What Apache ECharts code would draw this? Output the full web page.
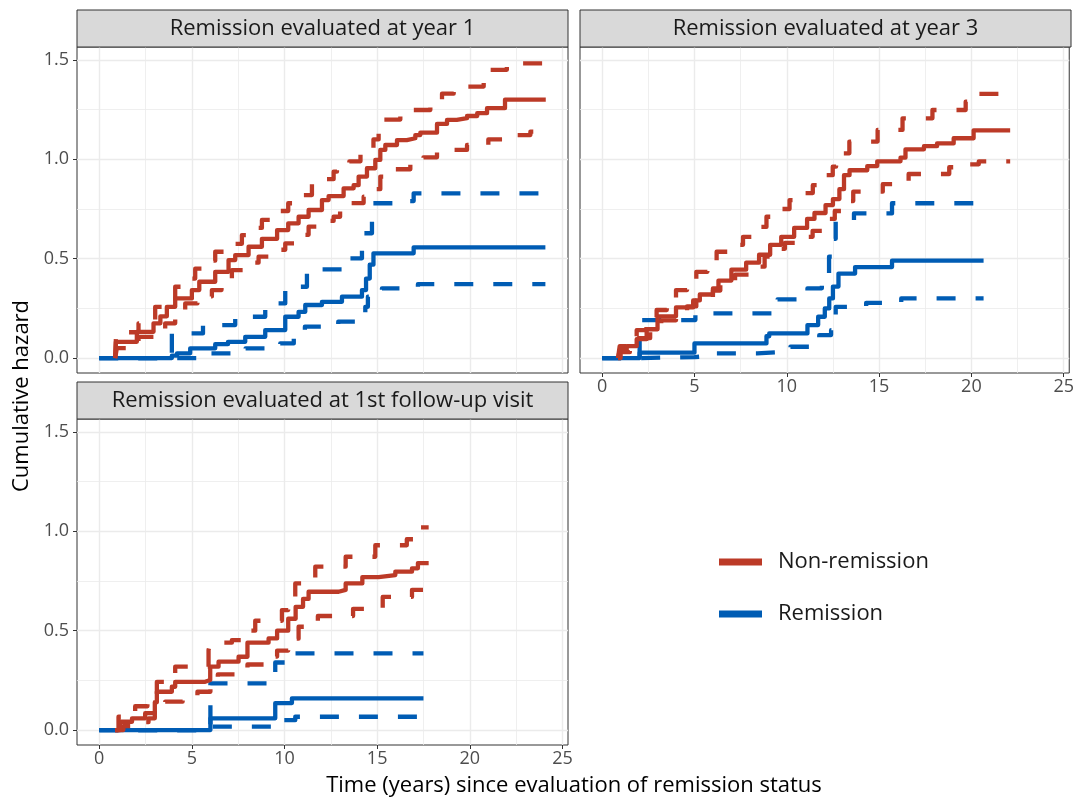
<!DOCTYPE html>
<html>
<head>
<meta charset="utf-8">
<script src="https://cdn.jsdelivr.net/npm/echarts@6/dist/echarts.min.js"></script>
<style>
html,body{margin:0;padding:0;background:#fff;}
#chart{width:1077px;height:799px;}
</style>
</head>
<body>
<div id="chart"></div>
<script>
// ---------- DATA (time in years, cumulative hazard) ----------
const panelTitles = ["Remission evaluated at year 1", "Remission evaluated at year 3", "Remission evaluated at 1st follow-up visit"];
const groupNames = ["Non-remission", "Remission"];
const xTicks = [0, 5, 10, 15, 20, 25];
const xMinorTicks = [2.5, 7.5, 12.5, 17.5, 22.5];
const yTicks = [0, 0.5, 1.0, 1.5];
const yMinorTicks = [0.25, 0.75, 1.25];

// Panel 1: year 1
const y1NonRemEst = [[0.86,0],[0.9,0.082],[2.03,0.132],[2.93,0.175],[3.3,0.21],[3.65,0.258],[4.1,0.30],[5.0,0.342],[5.4,0.384],[6.26,0.434],[6.98,0.493],[7.34,0.518],[8.06,0.56],[8.78,0.60],[9.6,0.644],[10.2,0.678],[10.76,0.711],[11.3,0.745],[12.02,0.795],[12.38,0.815],[13.19,0.854],[13.73,0.87],[14.0,0.913],[14.45,0.955],[14.9,0.997],[15.17,1.047],[15.44,1.072],[16.07,1.097],[16.6,1.106],[17.06,1.122],[17.33,1.134],[18.23,1.178],[18.77,1.198],[19.3,1.207],[19.85,1.218],[20.4,1.232],[20.93,1.257],[21.9,1.30],[24.1,1.30]];
const y1NonRemUpper = [[0.86,0],[0.9,0.10],[1.5,0.13],[2.12,0.175],[3.02,0.258],[3.5,0.30],[4.1,0.359],[4.6,0.40],[5.18,0.45],[5.7,0.49],[6.26,0.535],[7.0,0.575],[7.7,0.619],[8.2,0.655],[8.78,0.695],[9.5,0.74],[10.2,0.779],[10.8,0.82],[11.48,0.879],[12.0,0.90],[12.65,0.938],[12.83,0.955],[13.5,0.99],[14.1,1.03],[14.8,1.10],[15.08,1.164],[15.2,1.20],[16.25,1.248],[17.87,1.29],[18.5,1.33],[19.13,1.366],[20.75,1.408],[20.9,1.45],[22.0,1.483],[24.1,1.483]];
const y1NonRemLower = [[0.86,0],[0.95,0.05],[2.12,0.107],[3.0,0.14],[3.56,0.175],[4.1,0.23],[4.64,0.275],[5.3,0.31],[6.08,0.342],[6.6,0.40],[7.16,0.443],[7.9,0.48],[8.6,0.51],[9.3,0.545],[10.04,0.577],[10.7,0.62],[11.3,0.661],[12.0,0.69],[12.65,0.711],[13.0,0.745],[13.6,0.78],[14.27,0.812],[14.6,0.85],[15.17,0.913],[16.0,0.95],[16.79,0.98],[17.5,1.01],[18.23,1.047],[19.85,1.072],[21.0,1.10],[21.83,1.122],[23.27,1.139],[24.1,1.139]];
const y1RemEst = [[0,0],[3.92,0.012],[4.2,0.024],[4.91,0.049],[6.26,0.07],[6.95,0.082],[7.88,0.107],[8.96,0.141],[10.04,0.208],[10.76,0.233],[11.12,0.267],[12.02,0.283],[13.1,0.309],[14.18,0.342],[14.4,0.40],[14.6,0.47],[14.8,0.527],[16.97,0.557],[24.08,0.557]];
const y1RemUpper = [[0,0],[3.92,0.124],[5.6,0.166],[7.34,0.208],[8.96,0.275],[10.04,0.359],[11.21,0.446],[13.1,0.502],[14.18,0.628],[14.72,0.779],[16.16,0.79],[16.97,0.829],[24.08,0.829]];
const y1RemLower = [[0,0],[5.9,0.024],[7.9,0.049],[9.77,0.074],[10.5,0.12],[11.1,0.158],[12.9,0.183],[14.36,0.258],[14.5,0.309],[15.26,0.351],[17.2,0.372],[24.08,0.372]];

// Panel 2: year 3
const y3NonRemEst = [[0.86,0],[0.95,0.04],[1.33,0.06],[1.87,0.095],[2.41,0.145],[3.0,0.21],[4.0,0.255],[4.93,0.29],[5.29,0.32],[6.0,0.35],[6.3,0.39],[7.0,0.445],[7.8,0.48],[8.5,0.52],[9.1,0.57],[9.7,0.61],[10.4,0.655],[11.1,0.70],[11.5,0.73],[12.1,0.77],[12.5,0.80],[12.85,0.85],[13.1,0.92],[13.4,0.945],[14.36,0.966],[14.9,0.99],[16.16,1.008],[16.43,1.05],[17.43,1.066],[18.14,1.08],[19.04,1.106],[20.12,1.146],[22.1,1.146]];
const y3NonRemUpper = [[0.86,0],[0.95,0.06],[1.3,0.09],[1.87,0.141],[2.4,0.19],[2.95,0.242],[3.5,0.29],[4.0,0.342],[4.6,0.38],[5.1,0.434],[5.7,0.48],[6.2,0.535],[6.9,0.57],[7.63,0.61],[8.2,0.66],[8.9,0.711],[9.5,0.75],[10.15,0.795],[10.8,0.83],[11.41,0.87],[12.0,0.92],[12.49,0.963],[12.67,0.98],[13.0,1.03],[13.39,1.089],[14.92,1.148],[16.27,1.206],[17.89,1.248],[19.69,1.29],[20.05,1.329],[22.1,1.329]];
const y3NonRemLower = [[0.86,0],[1.0,0.03],[1.5,0.06],[1.87,0.10],[2.6,0.14],[3.2,0.19],[4.0,0.22],[4.6,0.26],[5.1,0.29],[6.0,0.34],[6.4,0.38],[7.2,0.42],[8.0,0.46],[8.8,0.51],[9.3,0.55],[9.9,0.58],[10.6,0.61],[11.4,0.64],[12.1,0.70],[12.6,0.74],[13.1,0.79],[13.6,0.837],[15.2,0.875],[16.6,0.926],[18.8,0.96],[19.4,0.975],[20.4,0.99],[22.1,0.99]];
const y3RemEst = [[0,0],[2.03,0.027],[5.0,0.074],[8.9,0.11],[9.05,0.124],[11.12,0.166],[11.7,0.208],[12.06,0.25],[12.3,0.30],[12.5,0.36],[12.8,0.425],[13.7,0.458],[15.7,0.49],[20.66,0.49]];
const y3RemUpper = [[0,0],[2.03,0.191],[5.05,0.225],[9.5,0.295],[11.12,0.351],[11.9,0.40],[12.29,0.51],[12.5,0.60],[12.65,0.695],[13.64,0.728],[15.7,0.779],[20.66,0.779]];
const y3RemLower = [[0,0],[2.03,0.005],[5.0,0.013],[6.1,0.024],[8.4,0.032],[10.2,0.057],[11.76,0.116],[12.4,0.14],[12.65,0.258],[14.3,0.278],[16.2,0.30],[20.66,0.30]];

// Panel 3: 1st follow-up visit
const fvNonRemEst = [[0.86,0],[1.13,0.042],[1.77,0.059],[2.48,0.085],[3.0,0.14],[3.11,0.193],[3.92,0.218],[4.1,0.243],[5.72,0.252],[5.99,0.319],[6.44,0.344],[7.52,0.369],[8.0,0.44],[9.14,0.461],[9.6,0.50],[10.2,0.56],[10.6,0.62],[11.0,0.66],[11.3,0.696],[12.92,0.705],[13.3,0.738],[14.2,0.77],[15.08,0.78],[15.98,0.797],[16.88,0.814],[17.2,0.84],[17.78,0.84]];
const fvNonRemUpper = [[0.86,0],[1.04,0.067],[1.94,0.12],[2.6,0.15],[3.11,0.243],[4.1,0.319],[5.9,0.403],[6.0,0.44],[7.16,0.453],[7.9,0.50],[8.42,0.55],[9.86,0.604],[10.2,0.66],[10.58,0.738],[11.66,0.822],[13.3,0.872],[14.9,0.93],[16.6,0.96],[17.0,1.02],[17.78,1.02]];
const fvNonRemLower = [[0.86,0],[1.3,0.02],[2.0,0.04],[2.66,0.059],[3.0,0.10],[3.56,0.143],[4.5,0.16],[5.3,0.193],[6.0,0.25],[6.4,0.28],[7.4,0.30],[8.0,0.33],[8.9,0.37],[9.6,0.40],[10.2,0.46],[10.76,0.52],[11.8,0.574],[13.7,0.61],[15.3,0.67],[16.88,0.705],[17.78,0.705]];
const fvRemEst = [[0,0],[6.0,0.059],[9.5,0.136],[10.4,0.16],[17.5,0.16]];
const fvRemUpper = [[0,0],[6.0,0.235],[9.5,0.34],[10.4,0.386],[17.5,0.386]];
const fvRemLower = [[0,0],[6.08,0.017],[9.95,0.05],[10.58,0.067],[17.5,0.067]];

// ---------- STYLE ----------
const RED = '#BC3A27';
const BLUE = '#005CB4';
const FONT = '"Open Sans", "Noto Sans", sans-serif';
const GRID_COLOR = '#ebebeb';
const X_MIN = -1.2, X_MAX = 25.3;
const Y_MIN = -0.075, Y_MAX = 1.565;

const grids = [
  {left: 77, top: 47, width: 491, height: 326},
  {left: 580, top: 47, width: 491, height: 326},
  {left: 77, top: 419, width: 491, height: 326}
];
const showXLabels = [false, true, true];
const showYLabels = [true, false, true];

const xAxes = [], yAxes = [];
grids.forEach((g, i) => {
  xAxes.push({
    type: 'value', gridIndex: i, min: X_MIN, max: X_MAX, position: 'bottom',
    axisLine: {show: false, onZero: false},
    axisTick: {show: showXLabels[i], length: 4, lineStyle: {color: '#333333', width: 1}, customValues: xTicks},
    axisLabel: {show: showXLabels[i], customValues: xTicks, margin: 5, color: '#4d4d4d', fontSize: 18, fontFamily: FONT,
      formatter: v => String(v)},
    splitLine: {show: true, lineStyle: {color: GRID_COLOR, width: 1.4}}
  });
  xAxes.push({
    type: 'value', gridIndex: i, min: X_MIN, max: X_MAX, position: 'bottom',
    axisLine: {show: false, onZero: false},
    axisTick: {show: false, customValues: xMinorTicks},
    axisLabel: {show: false, customValues: xMinorTicks},
    splitLine: {show: true, lineStyle: {color: GRID_COLOR, width: 0.8}}
  });
  yAxes.push({
    type: 'value', gridIndex: i, min: Y_MIN, max: Y_MAX, position: 'left',
    axisLine: {show: false, onZero: false},
    axisTick: {show: showYLabels[i], length: 4, lineStyle: {color: '#333333', width: 1}, customValues: yTicks},
    axisLabel: {show: showYLabels[i], customValues: yTicks, margin: 8, color: '#4d4d4d', fontSize: 18, fontFamily: FONT,
      formatter: v => v.toFixed(1)},
    splitLine: {show: true, lineStyle: {color: GRID_COLOR, width: 1.4}}
  });
  yAxes.push({
    type: 'value', gridIndex: i, min: Y_MIN, max: Y_MAX, position: 'left',
    axisLine: {show: false, onZero: false},
    axisTick: {show: false, customValues: yMinorTicks},
    axisLabel: {show: false, customValues: yMinorTicks},
    splitLine: {show: true, lineStyle: {color: GRID_COLOR, width: 0.8}}
  });
});

const panels = [
  {rem: [y1RemEst, y1RemUpper, y1RemLower], non: [y1NonRemEst, y1NonRemUpper, y1NonRemLower]},
  {rem: [y3RemEst, y3RemUpper, y3RemLower], non: [y3NonRemEst, y3NonRemUpper, y3NonRemLower]},
  {rem: [fvRemEst, fvRemUpper, fvRemLower], non: [fvNonRemEst, fvNonRemUpper, fvNonRemLower]}
];

function mkSeries(name, data, color, dashed, p, z) {
  return {
    type: 'line', name: name, data: data, step: 'end',
    xAxisIndex: p * 2, yAxisIndex: p * 2,
    showSymbol: false, symbol: 'none', silent: true, animation: false, z: z,
    itemStyle: {color: color},
    lineStyle: {color: color, width: 4.3, type: dashed ? [19, 20] : 'solid', cap: 'butt', join: 'round'}
  };
}

const series = [];
panels.forEach((pd, p) => {
  series.push(mkSeries(groupNames[1] + ' upper', pd.rem[1], BLUE, true, p, 2));
  series.push(mkSeries(groupNames[1] + ' lower', pd.rem[2], BLUE, true, p, 2));
  series.push(mkSeries(groupNames[1], pd.rem[0], BLUE, false, p, 3));
  series.push(mkSeries(groupNames[0] + ' upper', pd.non[1], RED, true, p, 4));
  series.push(mkSeries(groupNames[0] + ' lower', pd.non[2], RED, true, p, 4));
  series.push(mkSeries(groupNames[0], pd.non[0], RED, false, p, 5));
});

const graphics = [];
const stripH = 37;
grids.forEach((g, i) => {
  graphics.push({type: 'rect', shape: {x: g.left, y: g.top - stripH, width: g.width, height: stripH},
    style: {fill: '#d9d9d9', stroke: '#333333', lineWidth: 1}, z: 10});
  graphics.push({type: 'text', x: g.left + g.width / 2, y: g.top - stripH / 2, z: 11,
    style: {text: panelTitles[i], fontSize: 22, fontFamily: FONT, fill: '#1a1a1a', align: 'center', verticalAlign: 'middle'}});
});
graphics.push({type: 'text', x: 22, y: 396, rotation: Math.PI / 2, z: 11,
  style: {text: 'Cumulative hazard', fontSize: 22, fontFamily: FONT, fill: '#000', align: 'center', verticalAlign: 'middle'}});
graphics.push({type: 'text', x: 574, y: 786, z: 11,
  style: {text: 'Time (years) since evaluation of remission status', fontSize: 22, fontFamily: FONT, fill: '#000', align: 'center', verticalAlign: 'middle'}});

const chart = echarts.init(document.getElementById('chart'), null, {renderer: 'canvas'});
chart.setOption({
  animation: false,
  backgroundColor: '#ffffff',
  grid: grids.map(g => Object.assign({show: true, borderColor: '#333333', borderWidth: 1, backgroundColor: 'transparent', containLabel: false}, g)),
  xAxis: xAxes,
  yAxis: yAxes,
  legend: {
    orient: 'vertical', left: 719, top: 551, itemWidth: 43, itemHeight: 7, itemGap: 30, padding: 0,
    selectedMode: false,
    textStyle: {fontSize: 22, fontFamily: FONT, color: '#1a1a1a', padding: [0, 0, 0, 11]},
    data: [
      {name: groupNames[0], icon: 'rect', itemStyle: {color: RED, borderWidth: 0}},
      {name: groupNames[1], icon: 'rect', itemStyle: {color: BLUE, borderWidth: 0}}
    ]
  },
  graphic: graphics,
  series: series
});
</script>
</body>
</html>
